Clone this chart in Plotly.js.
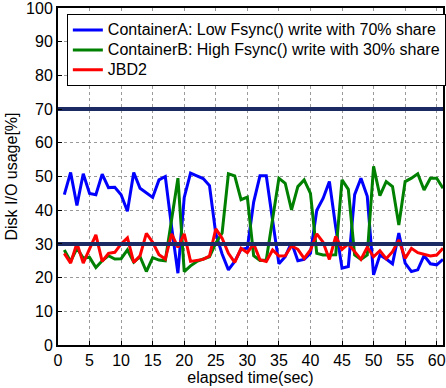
<!DOCTYPE html>
<html>
<head>
<meta charset="utf-8">
<script src="https://cdn.plot.ly/plotly-3.0.1.min.js"></script>
<style>html,body{margin:0;padding:0;background:#fff;}#chart{width:446px;height:388px;}</style>
</head>
<body>
<div id="chart"></div>
<script>
var seconds = [1,2,3,4,5,6,7,8,9,10,11,12,13,14,15,16,17,18,19,20,21,22,23,24,25,26,27,28,29,30,31,32,33,34,35,36,37,38,39,40,41,42,43,44,45,46,47,48,49,50,51,52,53,54,55,56,57,58,59,60,61];
var containerA = [44.6,51.2,41.4,50.8,45.0,44.6,50.7,46.7,46.8,44.6,39.7,51.2,46.5,45.2,43.8,49.0,50.0,35.0,21.3,43.8,51.0,50.2,49.4,47.3,33.0,27.0,22.3,24.8,28.4,28.7,42.4,50.2,50.2,37.0,24.1,26.2,30.4,25.0,25.4,27.2,40.0,43.5,48.5,35.0,22.8,23.3,44.6,49.5,44.1,20.8,26.7,25.5,24.1,33.2,24.3,21.8,22.3,26.5,24.1,23.8,25.4];
var containerB = [28.2,24.8,28.7,25.8,26.0,23.0,25.0,26.5,25.5,25.6,28.2,24.6,26.2,21.8,25.9,25.2,25.0,37.0,49.5,21.8,23.5,24.8,25.4,26.2,30.2,33.2,50.8,50.2,43.1,43.9,26.5,25.1,25.2,37.5,49.5,48.0,40.1,47.0,49.0,45.0,27.2,26.7,26.8,26.8,49.0,46.2,26.7,25.4,26.7,53.0,44.3,48.5,47.0,35.6,48.5,49.5,50.8,46.0,49.5,49.5,46.5];
var jbd2 = [27.2,24.3,30.2,24.3,28.5,32.7,24.8,27.2,27.5,30.0,31.8,24.5,26.5,33.1,30.5,26.8,25.5,33.0,29.0,33.0,24.8,25.0,25.4,26.4,34.5,31.7,27.2,24.5,28.7,27.4,30.0,25.3,24.8,28.2,26.4,26.5,29.4,28.4,25.7,28.2,33.0,30.5,25.4,32.2,28.4,30.0,27.7,25.4,29.0,26.2,28.0,25.6,27.7,31.2,25.7,28.7,27.4,27.0,26.4,26.7,28.7];
var shareLevels = [70, 30];
var timeSpan = [0, 61];
var seriesNames = ["ContainerA: Low Fsync() write with 70% share", "ContainerB: High Fsync() write with 30% share", "JBD2"];
var xTicks = [0,5,10,15,20,25,30,35,40,45,50,55,60];
var yTicks = [0,10,20,30,40,50,60,70,80,90,100];

var colors = ["#0000ff", "#008000", "#ff0000"];
var series = [containerA, containerB, jbd2];
var traces = series.map(function (s, i) {
  return {x: seconds, y: s, name: '<span style="font-size:16px">' + seriesNames[i] + '</span>',
          type: "scatter", mode: "lines", line: {color: colors[i], width: 3}};
});
shareLevels.forEach(function (lv) {
  traces.push({x: timeSpan, y: [lv, lv], type: "scatter", mode: "lines", showlegend: false,
               hoverinfo: "skip", line: {color: "#1b2a62", width: 4}});
});

var fam = "Liberation Sans, Arial, sans-serif";
var layout = {
  width: 446, height: 388,
  margin: {l: 58, r: 3, t: 8, b: 43, autoexpand: false},
  paper_bgcolor: "#fff", plot_bgcolor: "#fff",
  font: {family: fam, size: 16, color: "#000"},
  showlegend: true,
  legend: {x: 0.023, y: 0.982, xanchor: "left", yanchor: "top", bgcolor: "#fff",
           bordercolor: "#000", borderwidth: 1, font: {family: fam, size: 13, color: "#000"},
           tracegroupgap: 0, itemwidth: 30},
  xaxis: {range: timeSpan, tickvals: xTicks, ticktext: xTicks.map(String), showgrid: true,
          gridcolor: "#9a9a9a", griddash: "dot", gridwidth: 1, zeroline: false,
          showline: true, linecolor: "#000", linewidth: 2, mirror: true,
          ticks: "inside", ticklen: 4, tickcolor: "#000", automargin: false,
          ticklabeloverflow: "allow",
          title: {text: "elapsed time(sec)", font: {family: fam, size: 16}, standoff: 0}},
  yaxis: {range: [0, 100], tickvals: yTicks, ticktext: yTicks.map(String), showgrid: true,
          gridcolor: "#9a9a9a", griddash: "dot", gridwidth: 1, zeroline: false,
          showline: true, linecolor: "#000", linewidth: 2, mirror: true,
          ticks: "inside", ticklen: 4, tickcolor: "#000", automargin: false,
          ticklabeloverflow: "allow",
          title: {text: "Disk I/O usage[%]", font: {family: fam, size: 16}, standoff: 4}}
};
Plotly.newPlot("chart", traces, layout, {displayModeBar: false, staticPlot: true});
</script>
</body>
</html>
